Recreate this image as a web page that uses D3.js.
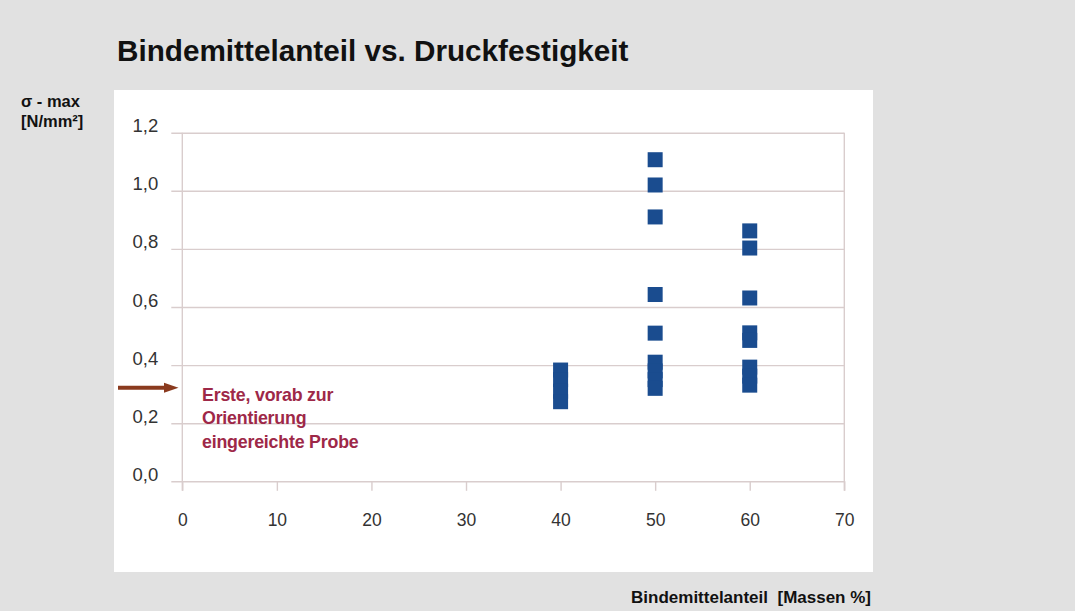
<!DOCTYPE html>
<html>
<head>
<meta charset="utf-8">
<script src="https://cdn.jsdelivr.net/npm/d3@7"></script>
<style>
  html, body { margin: 0; padding: 0; background: #e1e1e1; }
  svg { display: block; }
  text { font-family: "Liberation Sans", Arial, sans-serif; }
</style>
</head>
<body>
<svg id="chart" width="1075" height="611"></svg>
<script>
// ---- Data ----
const title = "Bindemittelanteil vs. Druckfestigkeit";
const yTitleLines = ["σ - max", "[N/mm²]"];
const xTitle = "Bindemittelanteil  [Massen %]";
const annotationLines = ["Erste, vorab zur", "Orientierung", "eingereichte Probe"];

const xTicks = [0, 10, 20, 30, 40, 50, 60, 70];
const yTicks = [0, 0.2, 0.4, 0.6, 0.8, 1.0, 1.2];

const binderShare = [40, 40, 40, 40,
                     50, 50, 50, 50, 50, 50, 50, 50, 50,
                     60, 60, 60, 60, 60, 60, 60, 60];
const strength    = [0.383, 0.35, 0.31, 0.274,
                     1.107, 1.02, 0.91, 0.643, 0.51, 0.41, 0.38, 0.35, 0.32,
                     0.862, 0.803, 0.631, 0.511, 0.485, 0.393, 0.362, 0.331];

// ---- Layout ----
const svg = d3.select("#chart");
const plot = { left: 182.3, right: 844.3, top: 132.7, bottom: 481.3 };
const fmt = d3.format(".1f");
const fmtComma = v => fmt(v).replace(".", ",");

const x = d3.scaleLinear().domain([0, 70]).range([plot.left, plot.right]);
const y = d3.scaleLinear().domain([0, 1.2]).range([plot.bottom, plot.top]);

const gridColor = "#d9cdcd";

// white panel
svg.append("rect").attr("x", 114).attr("y", 90).attr("width", 759).attr("height", 482).attr("fill", "#ffffff");

// title
svg.append("text").attr("x", 117).attr("y", 61).attr("font-size", 29.7).attr("font-weight", "bold")
  .attr("fill", "#111").text(title);

// y axis title
svg.selectAll(".ytitle").data(yTitleLines).join("text")
  .attr("x", 21).attr("y", (d, i) => 107 + i * 20)
  .attr("font-size", 16.5).attr("font-weight", "bold").attr("fill", "#111").text(d => d);

// x axis title
svg.append("text").attr("x", 871).attr("y", 603).attr("text-anchor", "end")
  .attr("xml:space", "preserve").style("white-space", "pre")
  .attr("font-size", 17).attr("font-weight", "bold").attr("fill", "#111").text(xTitle);

// y axis with gridlines
const yAxis = d3.axisLeft(y).tickValues(yTicks).tickFormat(fmtComma)
  .tickSize(-(plot.right - plot.left)).tickSizeOuter(0).tickPadding(0);
const gy = svg.append("g").attr("transform", `translate(${plot.left},0)`).call(yAxis);
gy.select(".domain").remove();
gy.selectAll(".tick line").attr("stroke", gridColor).attr("stroke-width", 1.4)
  .attr("x1", -11).attr("x2", plot.right - plot.left);
gy.selectAll(".tick text").attr("x", -24).attr("dy", "-0.05em").attr("text-anchor", "end")
  .attr("font-size", 18.5).attr("fill", "#333").attr("font-family", "Liberation Sans, Arial, sans-serif");

// x axis
const xAxis = d3.axisBottom(x).tickValues(xTicks).tickFormat(d3.format("d"))
  .tickSize(9.5).tickSizeOuter(0).tickPadding(23);
const gx = svg.append("g").attr("transform", `translate(0,${plot.bottom})`).call(xAxis);
gx.select(".domain").remove();
gx.selectAll(".tick line").attr("stroke", gridColor).attr("stroke-width", 1.4);
gx.selectAll(".tick text").attr("font-size", 17.5).attr("fill", "#333")
  .attr("font-family", "Liberation Sans, Arial, sans-serif");

// vertical axis lines (left axis and right wall border)
svg.selectAll(".vline").data([0, 70]).join("line")
  .attr("x1", d => x(d)).attr("x2", d => x(d))
  .attr("y1", y(1.2)).attr("y2", plot.bottom + 9.5)
  .attr("stroke", gridColor).attr("stroke-width", 1.4);

// data squares
const s = 15;
svg.selectAll(".pt").data(d3.range(binderShare.length)).join("rect")
  .attr("x", i => x(binderShare[i]) - s / 2)
  .attr("y", i => y(strength[i]) - s / 2)
  .attr("width", s).attr("height", s)
  .attr("fill", "#1a4c8f");

// annotation arrow
const ay = 387.7;
svg.append("line").attr("x1", 118).attr("x2", 166).attr("y1", ay).attr("y2", ay)
  .attr("stroke", "#8a3a1e").attr("stroke-width", 4);
svg.append("path").attr("d", `M164,${ay - 5} L178.5,${ay} L164,${ay + 5} Z`).attr("fill", "#8a3a1e");

// annotation text
svg.selectAll(".ann").data(annotationLines).join("text")
  .attr("x", 202).attr("y", (d, i) => 400.5 + i * 23.6)
  .attr("font-size", 17.8).attr("font-weight", "bold").attr("fill", "#9e2848")
  .attr("letter-spacing", -0.2)
  .text(d => d);
</script>
</body>
</html>
